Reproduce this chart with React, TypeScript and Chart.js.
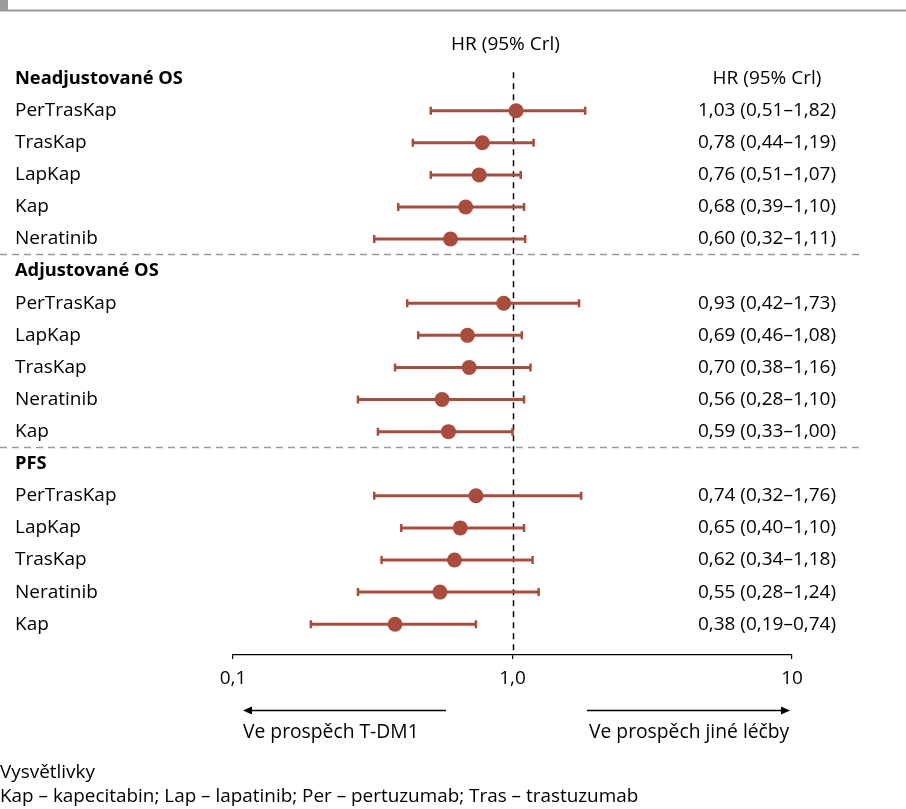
import { useEffect, useRef } from "react";
import { Chart, registerables } from "chart.js";

Chart.register(...registerables);

const rowLabels = [
  "Neadjustované OS", "PerTrasKap", "TrasKap", "LapKap", "Kap", "Neratinib",
  "Adjustované OS", "PerTrasKap", "LapKap", "TrasKap", "Neratinib", "Kap",
  "PFS", "PerTrasKap", "LapKap", "TrasKap", "Neratinib", "Kap",
];
const hrValues = [
  null, 1.03, 0.78, 0.76, 0.68, 0.6,
  null, 0.93, 0.69, 0.7, 0.56, 0.59,
  null, 0.74, 0.65, 0.62, 0.55, 0.38,
];
const lowerValues = [
  null, 0.51, 0.44, 0.51, 0.39, 0.32,
  null, 0.42, 0.46, 0.38, 0.28, 0.33,
  null, 0.32, 0.4, 0.34, 0.28, 0.19,
];
const upperValues = [
  null, 1.82, 1.19, 1.07, 1.1, 1.11,
  null, 1.73, 1.08, 1.16, 1.1, 1.0,
  null, 1.76, 1.1, 1.18, 1.24, 0.74,
];
const ciTexts = [
  "HR (95% Crl)", "1,03 (0,51–1,82)", "0,78 (0,44–1,19)", "0,76 (0,51–1,07)", "0,68 (0,39–1,10)", "0,60 (0,32–1,11)",
  "", "0,93 (0,42–1,73)", "0,69 (0,46–1,08)", "0,70 (0,38–1,16)", "0,56 (0,28–1,10)", "0,59 (0,33–1,00)",
  "", "0,74 (0,32–1,76)", "0,65 (0,40–1,10)", "0,62 (0,34–1,18)", "0,55 (0,28–1,24)", "0,38 (0,19–0,74)",
];
const separatorRows = [5.5, 11.5];
const xTickValues = [0.1, 1, 10];
const xTickLabels = ["0,1", "1,0", "10"];
const topHeader = "HR (95% Crl)";
const leftArrowText = "Ve prospěch T-DM1";
const rightArrowText = "Ve prospěch jiné léčby";
const footerTitle = "Vysvětlivky";
const footerText = "Kap – kapecitabin; Lap – lapatinib; Per – pertuzumab; Tras – trastuzumab";

const FONT = "'Open Sans', 'Noto Sans', sans-serif";
const MARK = "#a84c3e";

const forestPlugin = {
  id: "forest",
  beforeDatasetsDraw(chart: any) {
    const { ctx, scales, chartArea } = chart;
    const x = scales.x;
    const y = scales.y;
    ctx.save();
    // group separators
    ctx.strokeStyle = "#9a9a9a";
    ctx.lineWidth = 1.3;
    ctx.setLineDash([7, 5]);
    for (const r of separatorRows) {
      const py = Math.round(y.getPixelForValue(r)) - 0.5;
      ctx.beginPath();
      ctx.moveTo(0, py);
      ctx.lineTo(863, py);
      ctx.stroke();
    }
    // reference line at HR = 1
    const rx = Math.round(x.getPixelForValue(1)) + 0.5;
    ctx.strokeStyle = "#000";
    ctx.lineWidth = 1.5;
    ctx.setLineDash([6, 5]);
    ctx.beginPath();
    ctx.moveTo(rx, y.getPixelForValue(-0.2));
    ctx.lineTo(rx, chartArea.bottom);
    ctx.stroke();
    // error bars
    ctx.setLineDash([]);
    ctx.strokeStyle = MARK;
    for (let i = 0; i < hrValues.length; i++) {
      const lo = lowerValues[i];
      const hi = upperValues[i];
      if (lo == null || hi == null) continue;
      const py = y.getPixelForValue(i);
      const lx = x.getPixelForValue(lo);
      const hx = x.getPixelForValue(hi);
      ctx.lineWidth = 3;
      ctx.beginPath();
      ctx.moveTo(lx, py);
      ctx.lineTo(hx, py);
      ctx.stroke();
      ctx.lineWidth = 2.5;
      ctx.beginPath();
      ctx.moveTo(lx, py - 4);
      ctx.lineTo(lx, py + 4);
      ctx.moveTo(hx, py - 4);
      ctx.lineTo(hx, py + 4);
      ctx.stroke();
    }
    ctx.restore();
  },
  afterDraw(chart: any) {
    const { ctx, scales } = chart;
    const x = scales.x;
    const y = scales.y;
    ctx.save();
    // top decoration
    ctx.fillStyle = "#9b9b9b";
    ctx.fillRect(0, 0, 8, 11);
    ctx.fillRect(0, 9.5, 906, 2);

    ctx.fillStyle = "#000";
    ctx.textBaseline = "middle";
    // header
    ctx.font = `19px ${FONT}`;
    ctx.textAlign = "center";
    ctx.fillText(topHeader, x.getPixelForValue(1) - 7, 45);
    // rows
    for (let i = 0; i < rowLabels.length; i++) {
      const py = y.getPixelForValue(i);
      const isHeader = hrValues[i] == null;
      ctx.font = isHeader ? `bold 18.3px ${FONT}` : `19px ${FONT}`;
      ctx.textAlign = "left";
      ctx.fillText(rowLabels[i], 15, py);
      if (ciTexts[i]) {
        ctx.font = `19px ${FONT}`;
        ctx.textAlign = "center";
        ctx.fillText(ciTexts[i], 767, py);
      }
    }
    // arrows
    const ay = 710.5;
    ctx.strokeStyle = "#000";
    ctx.lineWidth = 1.3;
    ctx.beginPath();
    ctx.moveTo(446, ay);
    ctx.lineTo(250, ay);
    ctx.moveTo(587, ay);
    ctx.lineTo(783, ay);
    ctx.stroke();
    ctx.beginPath();
    ctx.moveTo(243, ay);
    ctx.lineTo(252, ay - 4);
    ctx.lineTo(252, ay + 4);
    ctx.closePath();
    ctx.moveTo(790, ay);
    ctx.lineTo(781, ay - 4);
    ctx.lineTo(781, ay + 4);
    ctx.closePath();
    ctx.fill();
    ctx.font = `19.3px ${FONT}`;
    ctx.textAlign = "left";
    ctx.fillText(leftArrowText, 243, 733);
    ctx.fillText(rightArrowText, 589, 733);
    // footer
    ctx.font = `18.9px ${FONT}`;
    ctx.fillText(footerTitle, 0, 773);
    ctx.fillText(footerText, 0, 797);
    ctx.restore();
  },
};

export default function App() {
  const ref = useRef<HTMLCanvasElement | null>(null);
  useEffect(() => {
    document.body.style.margin = "0";
    const canvas = ref.current;
    if (!canvas) return;
    const points = hrValues
      .map((v, i) => (v == null ? null : { x: v, y: i }))
      .filter((p) => p !== null) as { x: number; y: number }[];
    const chart = new Chart(canvas, {
      type: "scatter",
      data: {
        datasets: [
          {
            data: points,
            backgroundColor: MARK,
            borderWidth: 0,
            pointRadius: 7.5,
            pointHoverRadius: 7.5,
          },
        ],
      },
      options: {
        responsive: false,
        animation: false,
        devicePixelRatio: 1,
        layout: { padding: { left: 233, right: 114, top: 46.5, bottom: 0 } },
        plugins: { legend: { display: false }, tooltip: { enabled: false } },
        scales: {
          x: {
            type: "logarithmic",
            min: 0.1,
            max: 10,
            afterBuildTicks: (scale: any) => {
              scale.ticks = xTickValues.map((v) => ({ value: v }));
            },
            afterFit: (scale: any) => {
              scale.height = 154;
            },
            ticks: {
              autoSkip: false,
              maxRotation: 0,
              padding: 8,
              color: "#000",
              font: { family: FONT, size: 19 },
              callback: (value: any) => {
                const idx = xTickValues.findIndex((t) => Math.abs(t - Number(value)) < 1e-9);
                return idx >= 0 ? xTickLabels[idx] : "";
              },
            },
            grid: {
              display: true,
              drawOnChartArea: false,
              drawTicks: true,
              tickLength: 4,
              color: "#000",
              lineWidth: 1.2,
            },
            border: { display: true, color: "#000", width: 1.3 },
          },
          y: {
            type: "linear",
            min: -1,
            max: 17.96,
            reverse: true,
            display: false,
          },
        },
      },
      plugins: [forestPlugin],
    });
    return () => chart.destroy();
  }, []);
  return <canvas ref={ref} width={906} height={809} style={{ display: "block" }} />;
}
